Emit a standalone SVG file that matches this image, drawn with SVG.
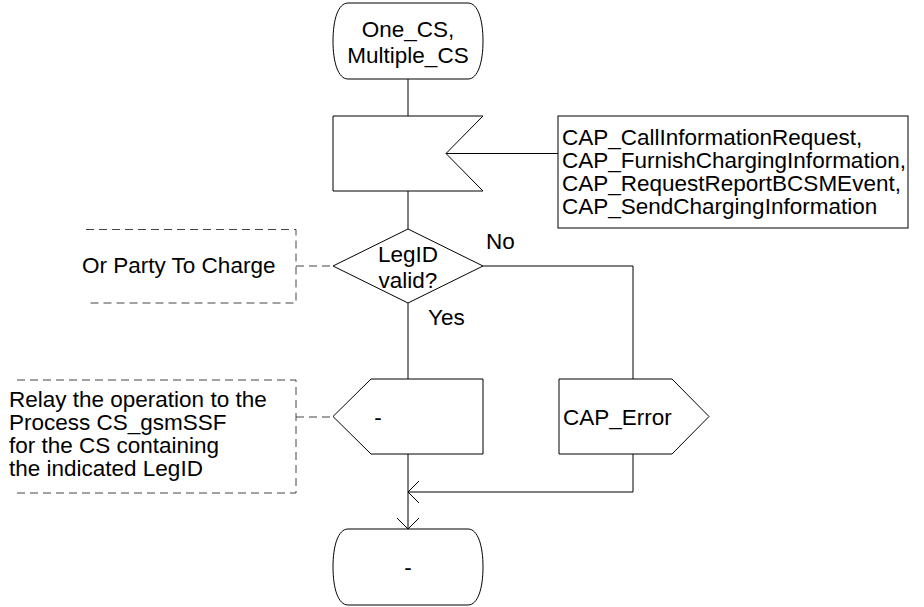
<svg xmlns="http://www.w3.org/2000/svg" width="924" height="607" viewBox="0 0 924 607">
<style>
.s{fill:#fff;stroke:#000;stroke-width:1}
.c{fill:none;stroke:#000;stroke-width:1}
.d{fill:none;stroke:#444;stroke-width:1;stroke-dasharray:8,5}
text{font-family:"Liberation Sans",Arial,sans-serif;font-size:22.5px;fill:#000}
.m{text-anchor:middle}
</style>
<defs>
<marker id="arr" markerUnits="userSpaceOnUse" markerWidth="24" markerHeight="24" refX="12" refY="12" orient="auto" viewBox="0 0 24 24">
<path d="M1,1 L12,12 L1,23" fill="none" stroke="#000" stroke-width="1"/>
</marker>
</defs>
<rect width="924" height="607" fill="#fff"/>
<g id="connectors">
<path class="c" d="M408,79 V116"/>
<path class="c" d="M446,153.5 H558"/>
<path class="c" d="M408,191 V229"/>
<path class="c" d="M408,303 V379"/>
<path class="c" d="M483,266 H633 V379"/>
<path class="c" d="M408,454 V529" marker-end="url(#arr)"/>
<path class="c" d="M633,454 V492 H408" marker-end="url(#arr)"/>
<path class="d" d="M296,266 H333"/>
<path class="d" d="M296,417 H333"/>
</g>
<g id="start">
<path class="s" d="M348,3 H468 C478,3 483,20 483,41 C483,62 478,79 468,79 H348 C338,79 333,62 333,41 C333,20 338,3 348,3 Z"/>
<text class="m" x="408" y="37">One_CS,</text>
<text class="m" x="408" y="63">Multiple_CS</text>
</g>
<g id="input">
<path class="s" d="M333,116 H483 L446,153.5 L483,191 H333 Z"/>
</g>
<g id="signals">
<rect class="s" x="558" y="116" width="350" height="112"/>
<text x="562" y="145">CAP_CallInformationRequest,</text>
<text x="562" y="168">CAP_FurnishChargingInformation,</text>
<text x="562" y="191">CAP_RequestReportBCSMEvent,</text>
<text x="562" y="214">CAP_SendChargingInformation</text>
</g>
<g id="decision">
<path class="s" d="M408,229 L483,266 L408,303 L333,266 Z"/>
<text class="m" x="408" y="262">LegID</text>
<text class="m" x="408" y="288">valid?</text>
<text x="486" y="249">No</text>
<text x="428" y="325">Yes</text>
</g>
<g id="comment1">
<path class="d" d="M86,229.5 H296 V303 H86"/>
<text x="82" y="273">Or Party To Charge</text>
</g>
<g id="relay">
<path class="s" d="M333,416.5 L371,379 H483 V454 H371 Z"/>
<text class="m" x="378" y="425">-</text>
</g>
<g id="comment2">
<path class="d" d="M17,380 H296 V493 H17"/>
<text x="9" y="407">Relay the operation to the</text>
<text x="9" y="430">Process CS_gsmSSF</text>
<text x="9" y="453">for the CS containing</text>
<text x="9" y="476">the indicated LegID</text>
</g>
<g id="error">
<path class="s" d="M559,379 H672 L709,416.5 L672,454 H559 Z"/>
<text x="563" y="425">CAP_Error</text>
</g>
<g id="end">
<path class="s" d="M348,529 H468 C478,529 483,546 483,567 C483,588 478,605 468,605 H348 C338,605 333,588 333,567 C333,546 338,529 348,529 Z"/>
<text class="m" x="408" y="575">-</text>
</g>
</svg>
